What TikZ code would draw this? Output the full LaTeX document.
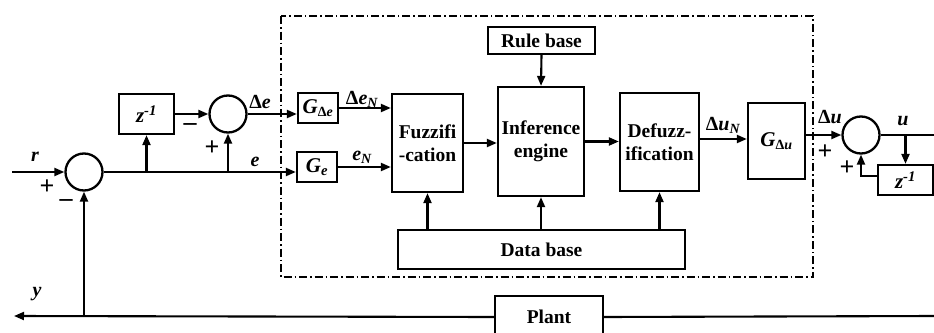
\documentclass[tikz,border=0pt]{standalone}
\usepackage{fontspec}
\setmainfont{Liberation Serif}
\usetikzlibrary{arrows.meta}
\newcommand{\Dlt}{\textup{Δ}}
\begin{document}
\begin{tikzpicture}[x=1pt,y=-1pt,
  every node/.style={font=\fontsize{19.5}{22.5}\selectfont\bfseries},
  blk/.style={draw,line width=2.3pt,inner sep=0pt,align=center},
  sumc/.style={draw,circle,line width=2.3pt,minimum size=37pt,inner sep=0pt},
  conn/.style={line width=2.1pt},
  arr/.style={conn,-{Triangle[length=10pt,width=8pt]}},
  lbl/.style={inner sep=0pt,font=\fontsize{20}{22}\selectfont\bfseries\itshape},
  gtx/.style={font=\fontsize{21}{22}\selectfont\bfseries\itshape},
  sgn/.style={inner sep=0pt,font=\fontsize{26}{26}\selectfont\bfseries},
  frame/.style={line width=1.6pt,dash pattern=on 8pt off 3pt on 1.5pt off 3pt}]
\useasboundingbox (0,0) rectangle (934,332);
\clip (0,0) rectangle (934,332);
% dashed controller frame
\draw[frame] (281,16) rectangle (813,277);
% nodes
\node[sumc] (s1) at (84,172) {};
\node[blk,gtx,minimum width=55pt,minimum height=40pt] (z1) at (146.5,114) {z\textsuperscript{-1}};
\node[sumc] (s2) at (228,114) {};
\node[blk,gtx,minimum width=40pt,minimum height=30pt] (GDe) at (318,108) {G\textsubscript{\fontsize{14}{14}\selectfont\Dlt e}};
\node[blk,gtx,minimum width=40pt,minimum height=30pt] (Ge) at (317,167) {G\textsubscript{e}};
\node[blk,minimum width=71pt,minimum height=98pt] (fz) at (427.5,143) {Fuzzifi\\-cation};
\node[blk,minimum width=86pt,minimum height=109pt] (inf) at (541,141.5) {Inference\\engine};
\node[blk,minimum width=79pt,minimum height=98pt] (dfz) at (659.5,142) {Defuzz-\\ification};
\node[blk,minimum width=107pt,minimum height=27pt] (rb) at (541.5,40.5) {Rule base};
\node[blk,minimum width=287pt,minimum height=39pt] (db) at (541.5,249.5) {Data base};
\node[blk,gtx,minimum width=57pt,minimum height=76pt] (GDu) at (776.5,141) {G\textsubscript{\fontsize{14}{14}\selectfont\Dlt u}};
\node[sumc] (s3) at (861,135) {};
\node[blk,gtx,minimum width=55pt,minimum height=30pt] (z2) at (905.5,180) {z\textsuperscript{-1}};
\node[blk,minimum width=108pt,minimum height=42pt] (pl) at (549,317) {Plant};
% coordinates
\coordinate (rin) at (12,172);
\coordinate (uout) at (934,135);
\coordinate (pin) at (934,316);
\coordinate (yout) at (14,316);
\coordinate (b1) at (z1.south |- s1.east);
\coordinate (b2) at (s2.south |- s1.east);
\coordinate (b3) at (z2.north |- s3.east);
\coordinate (b4) at (s1.south |- pin);
% connectors
\draw[arr] (rin) -- (s1.west);
\draw[arr] (s1.east) -- (s1.east -| Ge.west);
\draw[arr] (b1) -- (z1.south);
\draw[arr] (b2) -- (s2.south);
\draw[arr] (z1.east) -- (s2.west);
\draw[arr] (s2.east) -- (s2.east -| GDe.west);
\draw[arr] (GDe.east) -- (GDe.east -| fz.west);
\draw[arr] (Ge.east) -- (Ge.east -| fz.west);
\draw[arr] (fz.east) -- (fz.east -| inf.west);
\draw[arr] (inf.east) -- (inf.east -| dfz.west);
\draw[arr] ([yshift=3pt]dfz.east) -- ([yshift=3pt]dfz.east -| GDu.west);
\draw[arr] (rb.south) -- (inf.north);
\draw[arr] (db.north -| fz.south) -- (fz.south);
\draw[arr] (db.north -| inf.south) -- (inf.south);
\draw[arr] (db.north -| dfz.south) -- (dfz.south);
\draw[arr] (GDu.east |- s3.west) -- (s3.west);
\draw[conn] (s3.east) -- (uout);
\draw[arr] (b3) -- (z2.north);
\draw[arr] ([yshift=4pt]z2.west) -| (s3.south);
\draw[conn] (pin) -- (pl.east);
\draw[arr] (pl.west) -- (yout);
\draw[arr] (b4) -- (s1.south);
% labels
\node[lbl] at (35,157) {r};
\node[sgn] at (47,187) {+};
\node[sgn] at (66,203) {\textendash};
\node[sgn] at (190,127) {\textendash};
\node[sgn] at (212,148) {+};
\node[lbl] at (255,162) {e};
\node[lbl] at (260,102) {\Dlt e};
\node[lbl] at (362,99) {\Dlt e\textsubscript{N}};
\node[lbl] at (362,157) {e\textsubscript{N}};
\node[lbl] at (723,125) {\Dlt u\textsubscript{N}};
\node[lbl] at (830,117) {\Dlt u};
\node[sgn] at (825,152) {+};
\node[sgn] at (847,168) {+};
\node[lbl] at (903,121) {u};
\node[lbl] at (37,294) {y};
\end{tikzpicture}
\end{document}
